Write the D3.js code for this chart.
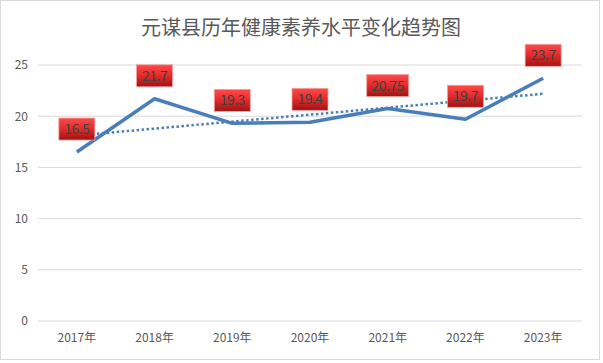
<!DOCTYPE html>
<html>
<head>
<meta charset="utf-8">
<script src="https://cdn.jsdelivr.net/npm/d3@7"></script>
<style>
  body { margin: 0; background: #fff; }
  text { font-family: "Noto Sans CJK SC", "Liberation Sans", sans-serif; }
</style>
</head>
<body>
<svg id="chart" width="603" height="363"></svg>
<script>
const years = ['2017年', '2018年', '2019年', '2020年', '2021年', '2022年', '2023年']
const values = [16.5, 21.7, 19.3, 19.4, 20.75, 19.7, 23.7]
const yTicks = [0, 5, 10, 15, 20, 25]
const title = '元谋县历年健康素养水平变化趋势图'

const svg = d3.select('#chart')

const defs = svg.append('defs')
const grad = defs.append('linearGradient').attr('id', 'lblGrad')
  .attr('x1', 0).attr('y1', 0).attr('x2', 0).attr('y2', 1)
grad.append('stop').attr('offset', '0%').attr('stop-color', '#ff4a4a')
grad.append('stop').attr('offset', '45%').attr('stop-color', '#e52e2e')
grad.append('stop').attr('offset', '100%').attr('stop-color', '#9e1414')

// chart frame
svg.append('rect')
  .attr('x', 0.5).attr('y', 0.5).attr('width', 599).attr('height', 359)
  .attr('fill', '#fff').attr('stroke', '#d9d9d9')

svg.append('text')
  .attr('x', 301).attr('y', 35)
  .attr('text-anchor', 'middle')
  .attr('font-size', 20)
  .attr('fill', '#595959')
  .text(title)

const x = d3.scaleBand().domain(years).range([38, 582])
const y = d3.scaleLinear().domain([0, 25]).range([321, 65])

// gridlines
svg.append('g').selectAll('line').data(yTicks).join('line')
  .attr('x1', 38).attr('x2', 582)
  .attr('y1', d => y(d)).attr('y2', d => y(d))
  .attr('stroke', '#d9d9d9').attr('stroke-width', 1)

const yAxis = svg.append('g').attr('transform', 'translate(38,0)')
  .call(d3.axisLeft(y).tickValues(yTicks).tickSize(0).tickPadding(10))
yAxis.select('.domain').remove()
yAxis.selectAll('text').attr('font-size', 12).attr('fill', '#595959')

const xAxis = svg.append('g').attr('transform', 'translate(0,321)')
  .call(d3.axisBottom(x).tickSize(0).tickPadding(12))
xAxis.select('.domain').remove()
xAxis.selectAll('text').attr('font-size', 12).attr('fill', '#595959')

const cx = d => x(d) + x.bandwidth() / 2

// linear trend line
const n = values.length
const mx = d3.mean(d3.range(n))
const my = d3.mean(values)
const slope = d3.sum(values, (v, i) => (i - mx) * (v - my)) / d3.sum(d3.range(n), i => (i - mx) ** 2)
const icpt = my - slope * mx
svg.append('line')
  .attr('x1', cx(years[0])).attr('y1', y(icpt))
  .attr('x2', cx(years[n - 1])).attr('y2', y(icpt + slope * (n - 1)))
  .attr('stroke', '#4a7ebb').attr('stroke-width', 2.5)
  .attr('stroke-dasharray', '2.5,2.5')

const line = d3.line().x((d, i) => cx(years[i])).y(d => y(d))
svg.append('path')
  .datum(values)
  .attr('d', line)
  .attr('fill', 'none')
  .attr('stroke', '#4a7ebb')
  .attr('stroke-width', 3.5)
  .attr('stroke-linejoin', 'round')

// data labels
const boxW = d => String(d).length * 6 + 12
const lbl = svg.append('g').selectAll('g').data(values).join('g')
  .attr('transform', (d, i) => `translate(${cx(years[i])},${y(d) - 23})`)
lbl.append('rect')
  .attr('x', d => -boxW(d) / 2)
  .attr('y', -11)
  .attr('width', boxW)
  .attr('height', 22)
  .attr('fill', 'url(#lblGrad)')
  .attr('stroke', '#f2a0a0').attr('stroke-width', 0.8)
lbl.append('text')
  .attr('text-anchor', 'middle')
  .attr('dy', '0.36em')
  .attr('font-size', 14)
  .attr('letter-spacing', -0.5)
  .attr('fill', '#404040')
  .text(d => d)
</script>
</body>
</html>
